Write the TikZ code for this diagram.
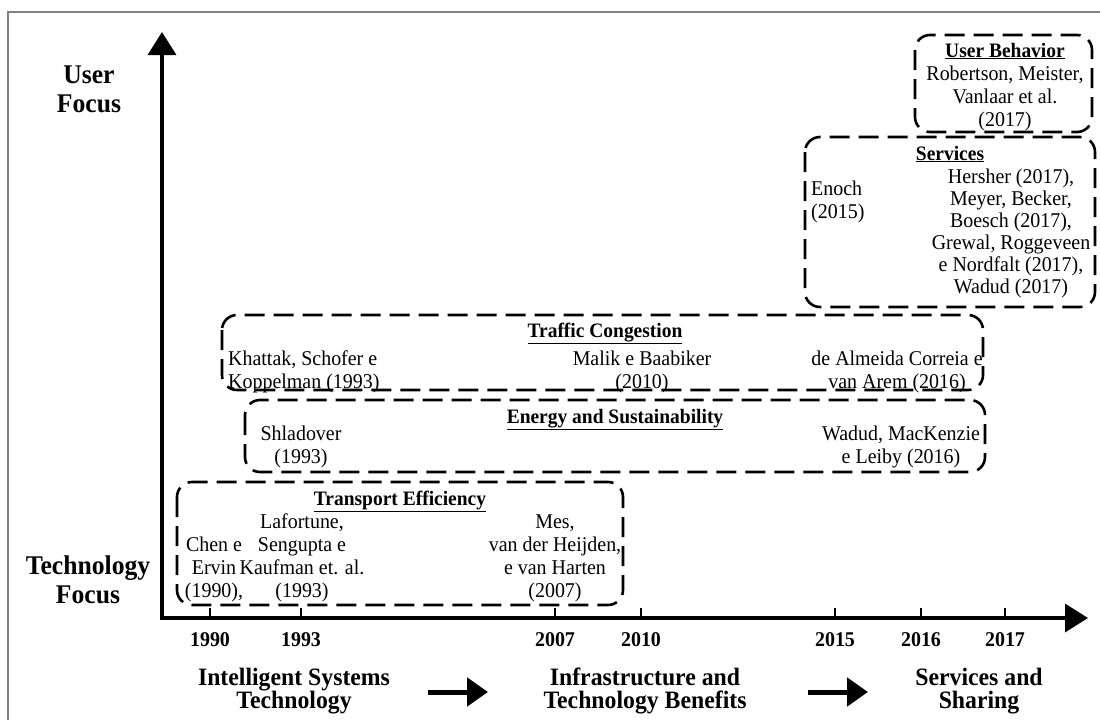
\documentclass[tikz,border=0pt]{standalone}
\usepackage{fontspec}
\setmainfont{Liberation Serif}[FakeStretch=0.95]
\usetikzlibrary{arrows.meta}
\tikzset{%
  axistip/.tip={Triangle[length=23pt,width=28pt]},
  phasetip/.tip={Triangle[length=21pt,width=28pt]},
  topicbox/.style={draw, line width=2.6pt, rounded corners=15pt, dash pattern=on 20pt off 9pt},
  ref/.style={inner sep=0pt, align=center, font=\fontsize{21}{23}\selectfont},
  head/.style={inner sep=0pt, anchor=base, font=\fontsize{20.5}{22}\selectfont\bfseries},
  axislabel/.style={inner sep=0pt, align=center, anchor=base, font=\fontsize{27}{28.5}\selectfont\bfseries},
  phase/.style={inner sep=0pt, align=center, anchor=base, font=\fontsize{25}{23}\selectfont\bfseries},
  year/.style={inner sep=0pt, anchor=base, font=\fontsize{21}{22}\selectfont\bfseries}
}
\definecolor{framegray}{gray}{0.5}
% multi-line nodes: base = baseline of the last line
\begin{document}
\begin{tikzpicture}[x=1pt,y=-1pt]
\useasboundingbox (0,0) rectangle (1100,720);
\draw[framegray, line width=1.5pt] (8,720) -- (8,12) -- (1100,12);
% axes
\coordinate (origin) at (162,618);
\coordinate (ytip) at (162,32);
\coordinate (xtip) at (1088,618);
\draw[line width=3.5pt, -axistip] (origin) -- (ytip);
\draw[line width=3.5pt, -axistip] ([xshift=-1.75pt]origin) -- (xtip);
\node[axislabel] (userfocus) at (89,112) {User\\Focus};
\node[axislabel] (techfocus) at (88,603) {Technology\\Focus};
% years
\foreach \yr/\xx in {1990/210,1993/301,2007/555,2010/641,2015/835,2016/921,2017/1005}{
  \draw[line width=2pt] (\xx,608) -- (\xx,618);
  \node[year] (y\yr) at (\xx,646) {\yr};
}
% phases
\node[phase] (phaseA) at (294,708) {Intelligent Systems\\Technology};
\node[phase] (phaseB) at (645,708) {Infrastructure and\\Technology Benefits};
\node[phase] (phaseC) at (979,708) {Services and\\Sharing};
\coordinate (arrAs) at (428,692);
\coordinate (arrAe) at (488,692);
\coordinate (arrBs) at (808,692);
\coordinate (arrBe) at (868,692);
\draw[line width=5pt, -phasetip] (arrAs) -- (arrAe);
\draw[line width=5pt, -phasetip] (arrBs) -- (arrBe);
% user behavior
\draw[topicbox] (915,35) rectangle (1092,132);
\node[head] (ubhead) at (1005,57) {\underline{User Behavior}};
\node[ref, anchor=base] (ubrefs) at (1005,126) {Robertson, Meister,\\Vanlaar et al.\\(2017)};
% services
\draw[topicbox] (805,137) rectangle (1095,307);
\node[head] (svhead) at (950,160) {\underline{Services}};
\node[ref, anchor=base west, align=left] (svenoch) at (811,218) {Enoch\\(2015)};
\node[ref, anchor=base, font=\fontsize{21}{22}\selectfont] (svrefs) at (1011,293) {Hersher (2017),\\Meyer, Becker,\\Boesch (2017),\\Grewal, Roggeveen\\e Nordfalt (2017),\\Wadud (2017)};
% traffic congestion
\draw[topicbox] (222,315) rectangle (983,390);
\node[head] (tchead) at (605,337) {\underline{Traffic Congestion}};
\node[ref, anchor=base west, align=left] (tckhattak) at (228,388) {Khattak, Schofer e\\Koppelman (1993)};
\node[ref, anchor=base] (tcmalik) at (642,388) {Malik e Baabiker\\(2010)};
\node[ref, anchor=base] (tcalmeida) at (897,388) {de Almeida Correia e\\van Arem (2016)};
% energy and sustainability
\draw[topicbox] (245,400) rectangle (985,472);
\node[head] (eshead) at (615,423) {\underline{Energy and Sustainability}};
\node[ref, anchor=base] (esshladover) at (301,463) {Shladover\\(1993)};
\node[ref, anchor=base] (eswadud) at (901,463) {Wadud, MacKenzie\\e Leiby (2016)};
% transport efficiency
\draw[topicbox] (177,482) rectangle (623,605);
\node[head] (tehead) at (400,505) {\underline{Transport Efficiency}};
\node[ref, anchor=base] (techen) at (214,597) {Chen e\\Ervin\\(1990),};
\node[ref, anchor=base] (telafortune) at (302,597) {Lafortune,\\Sengupta e\\Kaufman et. al.\\(1993)};
\node[ref, anchor=base] (temes) at (555,597) {Mes,\\van der Heijden,\\e van Harten\\(2007)};
\end{tikzpicture}
\end{document}
